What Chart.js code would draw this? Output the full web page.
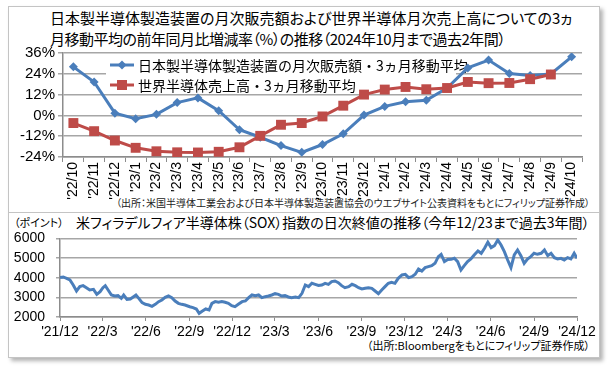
<!DOCTYPE html>
<html><head><meta charset="utf-8">
<script src="https://cdn.jsdelivr.net/npm/chart.js@4/dist/chart.umd.min.js"></script>
<style>
html,body{margin:0;padding:0;background:#fff;width:608px;height:369px;overflow:hidden;}
#frame{position:absolute;left:8px;top:6px;width:590px;height:350px;border:1px solid #c4c4c4;box-shadow:3px 3px 4px rgba(0,0,0,0.3);background:#fff;}
#sep{position:absolute;left:9px;top:212px;width:590px;height:1px;background:#c4c4c4;}
.t{position:absolute;white-space:nowrap;font-family:"Noto Sans CJK JP";font-feature-settings:"palt";color:#000;}
canvas{position:absolute;left:0;}
</style></head><body>
<div id="frame"></div>
<div id="sep"></div>
<div class="t" id="title1" style="left:50px;top:7px;font-size:15px;line-height:21px">日本製半導体製造装置の月次販売額および世界半導体月次売上高についての3ヵ<br><span style="letter-spacing:-0.5px">月移動平均の前年同月比増減率（%）の推移（2024年10月まで過去2年間）</span></div>
<div class="t" id="src1" style="right:18px;top:196px;font-size:10px;line-height:13px;color:#222">（出所：米国半導体工業会および日本半導体製造装置協会のウエブサイト公表資料をもとにフィリップ証券作成）</div>
<div class="t" style="left:14px;top:215px;font-size:11px;line-height:14px">（ポイント）</div>
<div class="t" id="title2" style="left:76px;top:213px;font-size:14px;line-height:18px">米フィラデルフィア半導体株（SOX）指数の日次終値の推移（今年12/23まで過去3年間）</div>
<div class="t" id="src2" style="right:18px;top:338px;font-size:11px;line-height:14px">（出所:Bloombergをもとにフィリップ証券作成）</div>
<canvas id="c1" width="608" height="212" style="top:0;width:608px;height:212px"></canvas>
<canvas id="c2" width="608" height="145" style="top:213px;width:608px;height:145px"></canvas>
<script>
// ---- top chart data ----
const months = ["'22/10","'22/11","'22/12","'23/1","'23/2","'23/3","'23/4","'23/5","'23/6","'23/7","'23/8","'23/9","'23/10","'23/11","'23/12","'24/1","'24/2","'24/3","'24/4","'24/5","'24/6","'24/7","'24/8","'24/9","'24/10"];
const equipYoY = [28.0,19.3,1.3,-1.9,0.6,7.4,10.1,2.7,-8.3,-12.6,-17.4,-21.3,-16.8,-10.6,0.2,5.2,7.9,8.7,15.8,27.4,31.9,24.2,23.0,23.9,33.8];
const chipYoY = [-4.4,-9.1,-14.5,-18.7,-20.7,-21.3,-21.4,-21.0,-18.4,-11.8,-5.4,-4.4,-0.6,5.6,12.0,14.9,16.4,15.1,15.8,19.3,18.6,18.7,20.9,23.6,null];
const equipLabel = '日本製半導体製造装置の月次販売額・3ヵ月移動平均';
const chipLabel = '世界半導体売上高・3ヵ月移動平均';
const pctTicks = [-24,-12,0,12,24,36];

// ---- bottom chart data (days since 2021/12/23, index close) ----
const soxDay = [0,7,14,21,28,35,42,49,56,63,71,78,85,91,96,102,109,116,123,130,135,142,149,156,161,167,174,181,188,195,202,209,216,223,230,237,244,251,258,265,275,282,289,295,302,309,316,322,329,336,343,350,357,364,371,378,386,393,400,407,414,421,428,435,442,449,456,463,470,477,484,491,499,506,513,520,527,534,541,548,555,562,569,576,583,590,597,604,612,619,626,633,640,647,654,661,668,675,682,689,696,703,710,717,725,732,739,746,753,760,767,774,781,788,795,802,808,815,822,829,836,843,850,857,864,871,878,886,893,900,907,914,921,928,935,942,949,956,963,970,977,984,991,998,1005,1012,1020,1027,1034,1041,1048,1055,1062,1069,1076,1083,1090,1096];
const soxClose = [4000,4034,3966,3881,3627,3322,3542,3593,3491,3373,3407,3153,3288,3491,3593,3373,3119,3068,3085,2949,3119,2898,2915,3034,3119,2949,2729,2644,2610,2542,2644,2780,2864,3000,3068,2983,2814,2695,2644,2610,2520,2475,2407,2186,2305,2407,2356,2695,2780,2746,2780,2746,2695,2576,2525,2644,2780,2814,2983,3119,3085,3119,2983,3034,3068,3119,3186,3153,3068,3085,3017,2983,3017,2983,3203,3627,3542,3712,3661,3600,3627,3712,3661,3797,3831,3746,3593,3491,3542,3661,3593,3491,3424,3458,3491,3458,3322,3186,3373,3542,3712,3763,3712,3966,4136,4169,4000,4051,4169,4441,4339,4508,4559,4610,4729,5068,5186,4814,4920,4932,4983,4814,4390,4610,4814,4949,5153,5356,5237,5492,5797,5525,5627,5915,5661,5322,4898,4508,5153,5407,5119,4729,4949,5068,5237,5186,5237,5407,5119,5237,5017,4949,4983,4898,5017,4949,5237,4983];
const quarterLabels = ["'21/12","'22/3","'22/6","'22/9","'22/12","'23/3","'23/6","'23/9","'23/12","'24/3","'24/6","'24/9","'24/12"];
const soxTicks = [2000,3000,4000,5000,6000];

const BLUE = '#4a7ebb', RED = '#be4b48', GRID = '#a6a6a6', AX = '#8c8c8c';
const NUMFONT = 'Liberation Sans';

const legendPlugin = {
  id: 'boxLegend',
  beforeDatasetsDraw(chart) {
    const ctx = chart.ctx;
    ctx.save();
    ctx.fillStyle = '#fff';
    ctx.fillRect(106, 55, 350, 39);
    chart.data.datasets.forEach((ds, i) => {
      const y = 65 + i * 20;
      ctx.strokeStyle = ds.borderColor; ctx.lineWidth = 3;
      ctx.beginPath(); ctx.moveTo(110, y); ctx.lineTo(134, y); ctx.stroke();
      ctx.fillStyle = ds.backgroundColor;
      if (ds.pointStyle === 'rectRot') {
        ctx.beginPath(); ctx.moveTo(122, y - 4.5); ctx.lineTo(126.5, y); ctx.lineTo(122, y + 4.5); ctx.lineTo(117.5, y); ctx.closePath(); ctx.fill();
      } else {
        ctx.fillRect(117, y - 5, 10, 10);
      }
      ctx.fillStyle = '#000';
      ctx.font = '14px "Noto Sans CJK JP"';
      ctx.textBaseline = 'middle';
      ctx.fillText(ds.label, 138, y + 1);
    });
    ctx.restore();
  }
};

new Chart(document.getElementById('c1'), {
  type: 'line',
  data: {
    labels: months,
    datasets: [
      { label: equipLabel, data: equipYoY, borderColor: BLUE, backgroundColor: BLUE, borderWidth: 3, pointStyle: 'rectRot', pointRadius: 4.5, pointBorderWidth: 0, tension: 0, order: 1 },
      { label: chipLabel, data: chipYoY, borderColor: RED, backgroundColor: RED, borderWidth: 3, pointStyle: 'rect', pointRadius: 7, pointBorderWidth: 0, tension: 0, order: 0 }
    ]
  },
  options: {
    responsive: false, animation: false, devicePixelRatio: 1,
    layout: { padding: { top: 53, right: 26, left: 0, bottom: 0 } },
    plugins: { legend: { display: false }, tooltip: { enabled: false } },
    scales: {
      x: {
        offset: true,
        grid: { offset: true, drawOnChartArea: false, drawTicks: true, tickLength: 5, color: AX, lineWidth: 1 },
        border: { color: AX, width: 1.5 },
        ticks: { autoSkip: false, minRotation: 90, maxRotation: 90, padding: 0, color: '#000', font: { family: NUMFONT, size: 14 } },
        afterFit(s) { s.height = 55; }
      },
      y: {
        min: -24, max: 36,
        afterBuildTicks(s) { s.ticks = pctTicks.map(v => ({ value: v })); },
        grid: { color: GRID, lineWidth: 1.5, tickLength: 5 },
        border: { color: AX, width: 1.5 },
        ticks: { autoSkip: false, callback: v => v + '%', padding: 3, color: '#000', font: { family: NUMFONT, size: 15 } },
        afterFit(s) { s.width = 63; }
      }
    }
  },
  plugins: [legendPlugin]
});

const startUTC = Date.UTC(2021, 11, 23);
const quarterDays = quarterLabels.map((_, i) => Math.round((Date.UTC(2021, 11 + 3 * i, 23) - startUTC) / 86400000));

new Chart(document.getElementById('c2'), {
  type: 'line',
  data: {
    datasets: [{ data: soxDay.map((d, i) => ({ x: d, y: soxClose[i] })), borderColor: BLUE, borderWidth: 3, pointRadius: 0, tension: 0 }]
  },
  options: {
    responsive: false, animation: false, devicePixelRatio: 1,
    layout: { padding: { top: 25.3, right: 31, left: 0, bottom: 0 } },
    plugins: { legend: { display: false }, tooltip: { enabled: false } },
    scales: {
      x: {
        type: 'linear', min: 0, max: quarterDays[quarterDays.length - 1],
        afterBuildTicks(s) { s.ticks = quarterDays.map(v => ({ value: v })); },
        grid: { drawOnChartArea: false, drawTicks: true, tickLength: 4, color: AX },
        border: { color: AX, width: 1.5 },
        ticks: { autoSkip: false, maxRotation: 0, padding: 3, color: '#000', font: { family: NUMFONT, size: 14 },
          callback: (v) => { const i = quarterDays.indexOf(v); return i >= 0 ? quarterLabels[i] : ''; } },
        afterFit(s) { s.height = 41; }
      },
      y: {
        min: 2000, max: 6000,
        afterBuildTicks(s) { s.ticks = soxTicks.map(v => ({ value: v })); },
        grid: { color: GRID, lineWidth: 1.5, tickLength: 4 },
        border: { color: AX, width: 1.5 },
        ticks: { autoSkip: false, callback: v => String(v), padding: 11, color: '#000', font: { family: NUMFONT, size: 14 } },
        afterFit(s) { s.width = 60; }
      }
    }
  }
});
</script>
</body></html>
